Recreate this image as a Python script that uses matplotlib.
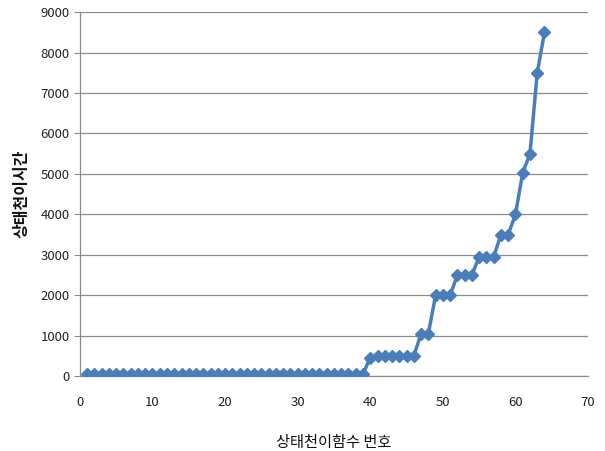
import matplotlib
matplotlib.use("Agg")
import matplotlib.pyplot as plt

plt.rcParams['font.family'] = ['Noto Sans CJK KR', 'DejaVu Sans']

x_values = list(range(1, 65))
y_values = [50] * 39 + [460, 500, 500, 500, 500, 500, 500, 1050, 1050,
                        2000, 2000, 2000, 2500, 2500, 2500, 2950, 2950, 2950,
                        3500, 3500, 4000, 5030, 5500, 7500, 8500]
x_ticks = [0, 10, 20, 30, 40, 50, 60, 70]
y_ticks = [0, 1000, 2000, 3000, 4000, 5000, 6000, 7000, 8000, 9000]
x_label = "상태천이함수 번호"
y_label = "상태천이시간"

fig = plt.figure(figsize=(6.05, 4.51), dpi=100)
ax = fig.add_axes([0.132, 0.166, 0.840, 0.807])

ax.plot(x_values, y_values, color='#4A7EBB', linewidth=2.5, marker='D',
        markersize=6, markerfacecolor='#4A7EBB', markeredgecolor='#4A7EBB', zorder=3)

ax.set_xlim(0, 70)
ax.set_ylim(0, 9000)
ax.set_xticks(x_ticks)
ax.set_yticks(y_ticks)
ax.grid(axis='y', color='#8C8C8C', linewidth=0.9)
ax.set_axisbelow(True)

for s in ['top', 'right']:
    ax.spines[s].set_visible(False)
for s in ['left', 'bottom']:
    ax.spines[s].set_color('#8C8C8C')
    ax.spines[s].set_linewidth(0.9)

ax.tick_params(axis='both', colors='#8C8C8C', labelcolor='#222222', labelsize=9.5, length=4)
ax.tick_params(axis='x', length=0, pad=14)

ax.set_xlabel(x_label, fontsize=11, color='#111111', labelpad=18)
ax.set_ylabel(y_label, fontsize=11.5, fontweight='bold', color='#111111', labelpad=8)

fig.savefig("out.png", dpi=100)
